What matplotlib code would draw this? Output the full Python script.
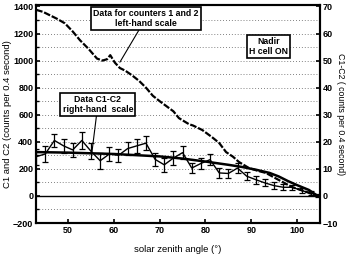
import matplotlib
matplotlib.use("Agg")
import matplotlib.pyplot as plt
import numpy as np

# Counters 1 and 2 (left-hand scale)
cnt_angle = [43, 44.5, 46, 47.5, 49.3, 51, 52.6, 54.5, 56.3, 57.5, 58.5, 59.2, 60.2, 61.3, 62.5, 64, 65.5, 67, 68.5, 70, 72, 73, 74.2, 76.4, 77.3, 79.3, 81.4, 83, 84.5, 86, 87.3, 89.5, 91.5, 93.2, 96, 98.9, 102, 104.5]
cnt_value = [1375, 1360, 1335, 1310, 1275, 1215, 1150, 1085, 1015, 1000, 1010, 1040, 985, 945, 925, 890, 850, 800, 740, 700, 650, 625, 575, 530, 520, 487, 435, 391, 324, 290, 251, 206, 185, 170, 118, 66, 30, 0]

# C1-C2 data (right-hand scale)
diff_angle = [43, 45, 47, 49, 51, 53, 55, 57, 59, 61, 63, 65, 67, 69, 71, 73, 75, 77, 79, 81, 83, 85, 87, 89, 91, 93, 95, 97, 99, 101, 103, 104.5]
diff_value = [14.5, 15.5, 20.5, 18.5, 17, 20.5, 16.5, 13, 15.5, 15, 17.5, 18.5, 19.5, 13.5, 11.5, 14, 16, 10.3, 12, 13.4, 8.5, 8.3, 10.3, 7.3, 6, 4.8, 3.8, 3.2, 3.2, 2, 1, 0.3]
diff_err = [3, 3, 2.5, 2.5, 2.5, 3, 3, 3, 2.5, 2.5, 2.5, 2.5, 2.5, 2.5, 2.5, 2.5, 2.5, 2, 2, 2, 1.8, 1.8, 1.8, 1.5, 1.5, 1.3, 1.2, 1.1, 1, 0.9, 0.8, 0.6]

# Smooth model curve (right-hand scale)
model_angle = [43, 50, 60, 70, 75, 80, 85, 88, 91, 94, 96, 98, 100, 102.6, 104.5]
model_value = [16.2, 16.0, 15.5, 14.6, 13.8, 12.7, 11.5, 10.7, 9.7, 8.5, 7.2, 5.5, 4.0, 2.2, 0]

plt.rcParams['font.family'] = ['Liberation Sans', 'DejaVu Sans']
plt.rcParams['font.weight'] = 'bold'

fig = plt.figure(figsize=(3.47, 2.54), dpi=100)
ax = fig.add_axes([0.104, 0.122, 0.818, 0.858])
ax.set_xlim(43, 105)
ax.set_ylim(-200, 1410)
ax2 = ax.twinx()
ax2.set_ylim(-10, 70.5)

# dotted grid
for g in [-100, 100, 200, 300, 400, 500, 600, 700, 800, 900, 1000, 1100, 1200, 1300]:
    ax.axhline(g, color='0.35', lw=0.6, ls=(0, (1, 2.5)), zorder=1)
ax.axhline(0, color='black', lw=1.0, zorder=2)

ax.plot(cnt_angle, cnt_value, color='black', lw=1.6, ls=(0, (3, 0.8)), zorder=3)
ax2.plot(model_angle, model_value, color='black', lw=1.8, zorder=3)
ax2.errorbar(diff_angle, diff_value, yerr=diff_err, color='black', lw=1.0,
             elinewidth=0.9, capsize=2.2, capthick=0.9, zorder=4)

ax.set_yticks([-200, 0, 200, 400, 600, 800, 1000, 1200, 1400])
ax.set_yticks(np.arange(-100, 1400, 200), minor=True)
ax.set_xticks([50, 60, 70, 80, 90, 100])
ax2.set_yticks([-10, 0, 10, 20, 30, 40, 50, 60, 70])
for a in (ax, ax2):
    a.tick_params(direction='in', labelsize=6.5, width=1.2, length=3, pad=2)
    a.tick_params(which='minor', direction='in', length=2, width=1)
    for s in a.spines.values():
        s.set_linewidth(1.5)

ax.set_ylabel('C1 and C2 (counts per 0.4 second)', fontsize=6.8, labelpad=1)
ax2.set_ylabel('C1-C2 ( counts per 0.4 second)', fontsize=6.3, rotation=270, labelpad=5)
ax.set_xlabel('solar zenith angle (°)', fontsize=6.8, labelpad=7)

bbox = dict(boxstyle='square,pad=0.25', fc='white', ec='black', lw=1.2)
ax.annotate('Data for counters 1 and 2\nleft-hand scale', xy=(61.3, 988), xytext=(67.0, 1313),
            fontsize=6.3, ha='center', va='center', bbox=bbox, linespacing=1.1,
            arrowprops=dict(arrowstyle='-', color='black', lw=0.8, shrinkA=0, shrinkB=0), zorder=6)
ax.annotate('Data C1-C2\nright-hand  scale', xy=(55.2, 324), xytext=(56.5, 678),
            fontsize=6.3, ha='center', va='center', bbox=bbox, linespacing=1.1,
            arrowprops=dict(arrowstyle='-', color='black', lw=0.8, shrinkA=0, shrinkB=0), zorder=6)
ax.text(93.8, 1102, 'Nadir\nH cell ON', fontsize=6.3, ha='center', va='center', bbox=bbox,
        linespacing=1.1, zorder=6)

fig.savefig('out.png', dpi=100)
